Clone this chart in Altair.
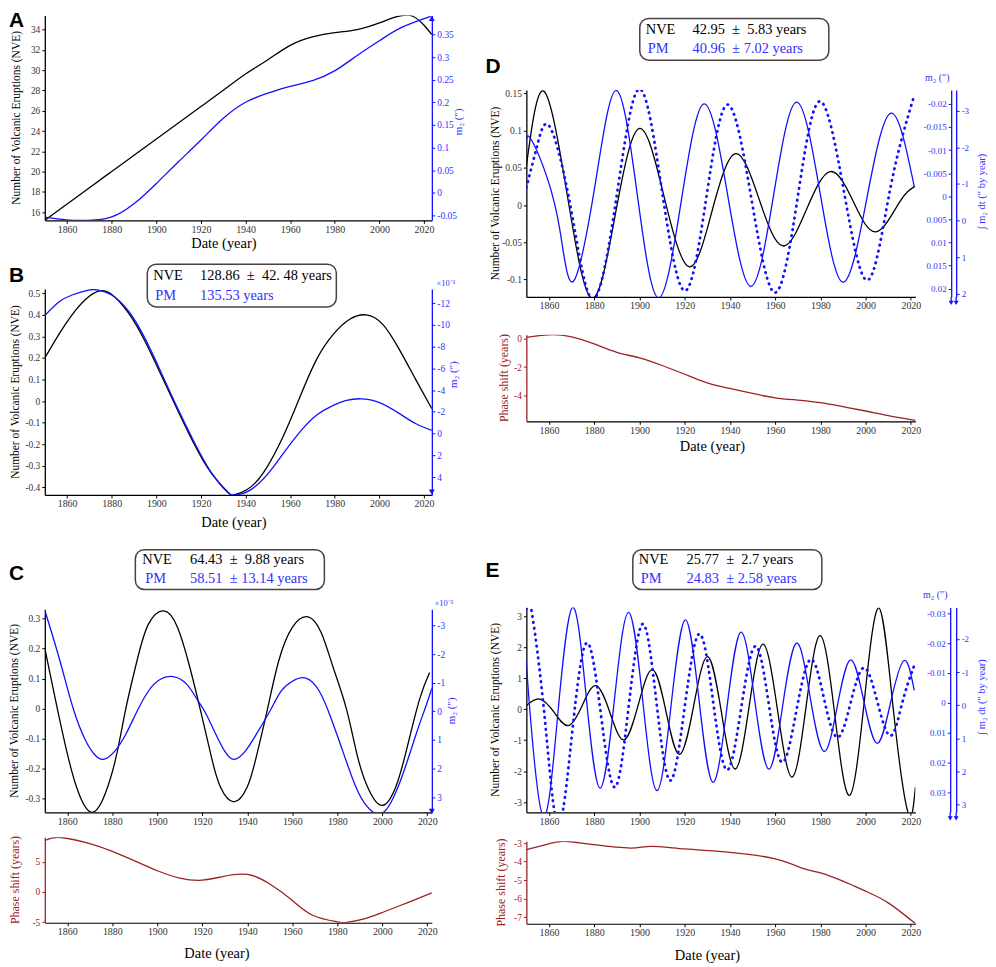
import altair as alt
import pandas as pd

SERIF = "Liberation Serif"
SANS = "Liberation Sans"
BLUE = "#1010ff"
BLUE_TXT = "#3030ff"
RED = "#9b2222"
TICK = "#333333"
BOXC = "#4a4242"

XT = [1860, 1880, 1900, 1920, 1940, 1960, 1980, 2000, 2020]
DOM_AB = [1850, 2023.5]
DOM_CDE = [1850, 2022]

# ---------------- Panel A ----------------
a_year_nve = [1850, 1860, 1870, 1880, 1890, 1900, 1910, 1920, 1930, 1940, 1950, 1960, 1970, 1980, 1990, 2000, 2005, 2010, 2015, 2020, 2023.5]
a_nve = [15.2, 16.81, 18.42, 20.02, 21.62, 23.22, 24.82, 26.42, 28.02, 29.62, 31.03, 32.45, 33.28, 33.7, 34.0, 34.66, 35.09, 35.38, 35.32, 34.43, 33.5]
a_year_pm = [1850, 1859.7, 1869.6, 1879.7, 1889.8, 1899.9, 1909.8, 1919.9, 1929.9, 1940, 1950, 1960, 1970, 1980.1, 1990.2, 2000.3, 2010.2, 2023]
a_pm = [-0.054, -0.060, -0.061, -0.054, -0.025, 0.020, 0.068, 0.116, 0.164, 0.200, 0.220, 0.235, 0.248, 0.270, 0.304, 0.337, 0.366, 0.390]
a_left_ticks = [16, 18, 20, 22, 24, 26, 28, 30, 32, 34]
a_right_ticks = [-0.05, 0, 0.05, 0.1, 0.15, 0.2, 0.25, 0.3, 0.35]

# ---------------- Panel B ----------------
b_year_nve = [1850, 1856.3, 1862.2, 1868.1, 1874.1, 1880, 1887.4, 1894.8, 1902.2, 1909.6, 1917, 1924.4, 1931.9, 1934.8, 1940.7, 1948.1, 1957, 1964.4, 1971.9, 1979.3, 1986.7, 1994.1, 2001.5, 2008.9, 2016.3, 2023.5]
b_nve = [0.20, 0.31, 0.40, 0.47, 0.51, 0.495, 0.41, 0.28, 0.12, -0.043, -0.20, -0.33, -0.42, -0.435, -0.41, -0.33, -0.16, 0.02, 0.195, 0.31, 0.38, 0.40, 0.356, 0.24, 0.10, -0.035]
b_year_pm = [1850, 1856.3, 1862.2, 1869.6, 1874.1, 1880, 1887.4, 1894.8, 1902.2, 1909.6, 1917, 1924.4, 1931.9, 1935.4, 1941.3, 1949.6, 1957, 1964.4, 1971.9, 1979.3, 1985.2, 1991.7, 2000.1, 2009, 2016.4, 2023.5]
b_pm = [-10.86, -12.1, -12.75, -13.2, -13.2, -12.75, -11.3, -8.8, -5.6, -2.3, 0.8, 3.5, 5.4, 5.65, 5.3, 3.8, 1.8, -0.15, -1.7, -2.6, -3.05, -3.2, -2.85, -1.83, -0.9, -0.3]
b_left_ticks = [-0.4, -0.3, -0.2, -0.1, 0, 0.1, 0.2, 0.3, 0.4, 0.5]
b_right_ticks = [-12, -10, -8, -6, -4, -2, 0, 2, 4]

# ---------------- Panel C ----------------
c_year_nve = [1850, 1855, 1860, 1865, 1871, 1877, 1882, 1886, 1891, 1896, 1903, 1909, 1914, 1919, 1924, 1928, 1934, 1940, 1944, 1949, 1954, 1960, 1967, 1973, 1978, 1984, 1989, 1994, 2000, 2006, 2011, 2016.5, 2021]
c_nve = [0.2, 0.02, -0.15, -0.28, -0.345, -0.28, -0.15, 0.0, 0.16, 0.28, 0.325, 0.27, 0.15, 0.0, -0.16, -0.26, -0.31, -0.26, -0.16, 0.0, 0.16, 0.27, 0.305, 0.25, 0.14, 0.0, -0.16, -0.27, -0.322, -0.26, -0.13, 0.03, 0.12]
c_year_pm = [1850, 1854, 1858, 1863, 1868, 1872, 1876, 1881, 1886, 1891, 1896, 1901, 1907, 1913, 1917, 1921, 1926, 1930, 1934, 1939, 1944, 1950, 1955, 1960, 1966, 1972, 1977, 1982, 1987, 1992, 1999, 2005, 2010, 2015, 2019, 2022]
c_pm = [-3.53, -2.5, -1.4, 0.0, 1.0, 1.5, 1.68, 1.4, 0.8, 0.0, -0.7, -1.1, -1.21, -0.95, -0.5, 0.0, 0.8, 1.4, 1.68, 1.4, 0.8, 0.0, -0.7, -1.05, -1.16, -0.7, 0.2, 1.3, 2.4, 3.2, 3.59, 3.0, 2.0, 0.8, -0.1, -0.8]
c_year_ph = [1850, 1857, 1870, 1880, 1892, 1900, 1910, 1920, 1929, 1940, 1950, 1960, 1969, 1980, 1984, 1991.5, 2000, 2011, 2022]
c_ph = [8.5, 9.0, 8.0, 6.7, 4.8, 3.5, 2.3, 1.95, 2.55, 2.9, 1.3, -1.4, -3.85, -4.95, -5.05, -4.5, -3.4, -1.8, -0.15]
c_left_ticks = [-0.3, -0.2, -0.1, 0, 0.1, 0.2, 0.3]
c_right_ticks = [-3, -2, -1, 0, 1, 2, 3]
c_ph_ticks = [-5, 0, 5]

# ---------------- Panel D ----------------
d_year_nve = [1850, 1857.7, 1868, 1878.9, 1889.5, 1900, 1911, 1922, 1932.2, 1942.5, 1953, 1963.4, 1974, 1984.4, 1994.5, 2004.6, 2015, 2021.8]
d_nve = [0.052, 0.153, 0.015, -0.125, -0.01, 0.103, 0.01, -0.083, -0.007, 0.069, 0.007, -0.055, -0.005, 0.045, 0.005, -0.036, 0.004, 0.025]
d_year_pm = [1850, 1852, 1859, 1865, 1870.8, 1880.3, 1889.8, 1899, 1908.4, 1918.5, 1928.6, 1939, 1949.3, 1959.4, 1969.5, 1979.8, 1990, 2000.6, 2011.2, 2021.5]
d_pm = [-0.0120, -0.0124, -0.0043, 0.0078, 0.0184, -0.0022, -0.0229, -0.0005, 0.0220, 0.001, -0.0200, -0.0003, 0.0195, -0.0005, -0.0204, -0.0009, 0.0186, 0.0003, -0.0180, -0.0021]
d_year_int = [1850, 1855, 1860.6, 1870, 1879.6, 1890, 1900, 1910, 1920, 1929.5, 1939, 1949.5, 1960, 1970, 1979.7, 1990.4, 2001, 2011, 2021.4]
d_int = [-0.9, -2.1, -2.54, -0.23, 2.15, -0.7, -3.6, -0.8, 1.92, -0.6, -3.17, -0.6, 1.97, -0.65, -3.26, -0.8, 1.63, -0.9, -3.4]
d_year_ph = [1850, 1860, 1870, 1880, 1890, 1900, 1910, 1920, 1930, 1940, 1950, 1960, 1970, 1980, 1990, 2000, 2010, 2022]
d_ph = [0.07, 0.25, 0.11, -0.39, -0.97, -1.36, -1.89, -2.5, -3.1, -3.49, -3.84, -4.14, -4.3, -4.48, -4.76, -5.06, -5.38, -5.72]
d_left_ticks = [-0.1, -0.05, 0, 0.05, 0.1, 0.15]
d_m2_ticks = [-0.02, -0.015, -0.01, -0.005, 0, 0.005, 0.01, 0.015, 0.02]
d_int_ticks = [-3, -2, -1, 0, 1, 2]
d_ph_ticks = [-4, -2, 0]

# ---------------- Panel E ----------------
e_year_nve = [1850, 1856.0, 1862.3, 1868.6, 1874.7, 1880.8, 1887.0, 1893.2, 1899.5, 1905.8, 1911.8, 1917.8, 1924.0, 1930.2, 1936.3, 1942.4, 1948.5, 1954.7, 1961.1, 1967.5, 1973.7, 1980.0, 1986.4, 1992.9, 1999.4, 2005.9, 2012.3, 2018.8, 2022]
e_nve = [0.12, 0.33, -0.10, -0.53, 0.12, 0.76, -0.12, -0.99, 0.15, 1.28, -0.09, -1.46, 0.12, 1.70, -0.12, -1.93, 0.09, 2.10, -0.05, -2.19, 0.10, 2.38, -0.20, -2.78, 0.25, 3.27, -0.04, -3.35, -2.52]
e_year_pm = [1850, 1851.5, 1857.5, 1864.0, 1870.5, 1876.5, 1882.6, 1888.9, 1895.2, 1901.5, 1907.7, 1914.0, 1920.3, 1926.4, 1932.5, 1938.7, 1944.9, 1951.0, 1957.2, 1963.3, 1969.5, 1975.5, 1981.6, 1987.5, 1993.4, 1999.3, 2005.2, 2011.1, 2017.0, 2021.5]
e_pm = [-0.0142, 0.002, 0.038, 0.003, -0.032, -0.0017, 0.0286, -0.0008, -0.0303, -0.0005, 0.0294, 0.0008, -0.0278, -0.0006, 0.0266, 0.0015, -0.0237, -0.0007, 0.0222, 0.0011, -0.020, -0.0018, 0.0163, 0.001, -0.0144, -0.0003, 0.0136, -0.0003, -0.0142, -0.0042]
e_year_int = [1850, 1852, 1858, 1864, 1870.3, 1876.7, 1883.0, 1889.2, 1895.3, 1901.5, 1907.5, 1913.6, 1920.0, 1926.5, 1932.6, 1938.7, 1945.0, 1951.3, 1957.2, 1963.1, 1969.4, 1975.7, 1981.6, 1987.5, 1993.4, 1999.3, 2005.2, 2011.1, 2016.3, 2021.4]
e_int = [-2.9, -2.95, 0.3, 3.6, 0.8, -1.88, 0.3, 2.47, 0.0, -2.45, -0.1, 2.27, 0.06, -2.15, -0.1, 1.95, 0.08, -1.78, -0.03, 1.72, 0.17, -1.38, -0.2, 0.97, -0.08, -1.13, -0.1, 0.92, -0.1, -1.18]
e_year_ph = [1850, 1860, 1867, 1880, 1896, 1905, 1920, 1940, 1960, 1973, 1980, 1990, 2000, 2010, 2022]
e_ph = [-3.36, -3.04, -2.91, -3.09, -3.27, -3.18, -3.32, -3.5, -3.86, -4.4, -4.61, -5.06, -5.6, -6.23, -7.35]
e_left_ticks = [-3, -2, -1, 0, 1, 2, 3]
e_m2_ticks = [-0.03, -0.02, -0.01, 0, 0.01, 0.02, 0.03]
e_int_ticks = [-2, -1, 0, 1, 2, 3]
e_ph_ticks = [-7, -6, -5, -4, -3]

NVE_T = "Number of Volcanic Eruptions (NVE)"
PH_T = "Phase shift (years)"
M2_T = "m\u2082 (\u2033)"
INT_T = "\u222b m\u2082 dt (\u2033 by year)"
NB = "\u00a0"

ONE = pd.DataFrame({"k": [0]})
LW = 1.3


def xenc(dom, fs=10):
    return alt.X("year:Q", scale=alt.Scale(domain=dom, nice=False, zero=False),
                 axis=alt.Axis(values=XT, labelExpr="'' + datum.value", title=None,
                               labelFontSize=fs, labelColor=TICK, domainColor="black",
                               tickColor="black", tickSize=3, labelPadding=1,
                               domainWidth=1.2, labelFont=SERIF))


def yaxis(vals, orient, color, lcolor, fs=9.5, offset=None):
    kw = dict(values=vals, labelExpr="'' + datum.value", title=None, orient=orient,
              domainColor=color, tickColor=color, labelColor=lcolor, labelFontSize=fs,
              tickSize=3, labelPadding=2, domainWidth=1.3, labelFont=SERIF)
    if offset is not None:
        kw["offset"] = offset
    return alt.Axis(**kw)


def curve(years, vals, xdom, ydom, axis, color, reverse=False, dotted=False):
    mk = dict(color=color, strokeWidth=LW, interpolate="natural", clip=True)
    if dotted:
        mk.update(strokeWidth=2.8, strokeDash=[0.5, 5.5], strokeCap="round")
    sc = alt.Scale(domain=ydom, nice=False, zero=False, reverse=reverse)
    df = pd.DataFrame({"year": years, "v": vals})
    return alt.Chart(df).mark_line(**mk).encode(
        x=xenc(xdom), y=alt.Y("v:Q", scale=sc, axis=axis))


def txt(x, y, s, size=14.5, color="black", font=SERIF, align="left",
        baseline="middle", angle=None, weight="normal"):
    mk = dict(font=font, fontSize=size, color=color, align=align,
              baseline=baseline, fontWeight=weight)
    if angle is not None:
        mk["angle"] = angle
    return alt.Chart(ONE).mark_text(**mk).encode(
        x=alt.value(x), y=alt.value(y), text=alt.value(s))


def letter(x, y, s):
    return txt(x, y, s, size=21, font=SANS, weight="bold", baseline="top")


def box(x0, x1, y0, y1):
    return alt.Chart(ONE).mark_rect(fill="white", stroke=BOXC, strokeWidth=1.5,
                                    cornerRadius=9).encode(
        x=alt.value(x0), x2=alt.value(x1), y=alt.value(y0), y2=alt.value(y1))


def arrow(x, y, up, size=36):
    return alt.Chart(ONE).mark_point(shape="triangle-up" if up else "triangle-down",
                                     filled=True, color=BLUE, size=size,
                                     opacity=1).encode(x=alt.value(x), y=alt.value(y))


def vrule(x, y0, y1):
    return alt.Chart(ONE).mark_rule(color=BLUE, strokeWidth=1.3).encode(
        x=alt.value(x), y=alt.value(y0), y2=alt.value(y1))


def spacer(w, h):
    return alt.Chart(ONE).mark_point(opacity=0).encode(
        x=alt.value(0), y=alt.value(0)).properties(width=w, height=h)


def legend_box(x0, x1, y0, y1, xn, xp, xv, nve_s, pm_s):
    ym1 = y0 + (y1 - y0) * 0.27
    ym2 = y0 + (y1 - y0) * 0.74
    return [box(x0, x1, y0, y1),
            txt(xn, ym1, "NVE"), txt(xv, ym1, nve_s),
            txt(xp, ym2, "PM", color=BLUE_TXT), txt(xv, ym2, pm_s, color=BLUE_TXT)]


WL, WR = 389, 391

# ---- A ----
HA = 206
A = alt.layer(
    curve(a_year_nve, a_nve, DOM_AB, [15.2, 35.4], yaxis(a_left_ticks, "left", "black", TICK), "black"),
    curve(a_year_pm, a_pm, DOM_AB, [-0.061, 0.392], yaxis(a_right_ticks, "right", BLUE, BLUE_TXT), BLUE),
    arrow(WL, 3, True),
    letter(-36, -5, "A"),
    txt(-28, HA / 2, NVE_T, size=11.5, align="center", angle=270),
    txt(WL + 27, HA / 2 + 4, M2_T, size=11, color=BLUE_TXT, align="center", angle=270),
    txt(180, HA + 24, "Date (year)", align="center"),
).resolve_scale(y="independent").properties(width=WL, height=HA)

# ---- B ----
HB = 207
B = alt.layer(
    curve(b_year_nve, b_nve, DOM_AB, [-0.435, 0.52], yaxis(b_left_ticks, "left", "black", TICK), "black"),
    curve(b_year_pm, b_pm, DOM_AB, [-13.3, 5.65], yaxis(b_right_ticks, "right", BLUE, BLUE_TXT), BLUE, reverse=True),
    arrow(WL, HB - 3, False),
    *legend_box(103, 293, -25, 18, 109, 111, 156,
                "128.86" + NB + NB + "\u00b1" + NB + NB + "42. 48 years", "135.53 years"),
    letter(-36, -24, "B"),
    txt(-29, HB / 2, NVE_T, size=11.5, align="center", angle=270),
    txt(WL + 22, 86, M2_T, size=11, color=BLUE_TXT, align="center", angle=270),
    txt(WL + 14, -6, "\u00d710\u207b\u00b3", size=8.5, color=BLUE_TXT, align="center"),
    txt(190, HB + 28, "Date (year)", align="center"),
).resolve_scale(y="independent").properties(width=WL, height=HB)

# ---- C ----
HC = 204
C = alt.layer(
    curve(c_year_nve, c_nve, DOM_CDE, [-0.345, 0.33], yaxis(c_left_ticks, "left", "black", TICK), "black"),
    curve(c_year_pm, c_pm, DOM_CDE, [-3.56, 3.53], yaxis(c_right_ticks, "right", BLUE, BLUE_TXT), BLUE, reverse=True),
    arrow(WL, HC - 1, False),
    *legend_box(91, 281, -60, -20, 98, 101, 146,
                "64.43" + NB + NB + "\u00b1" + NB + NB + "9.88 years",
                "58.51" + NB + NB + "\u00b1 13.14 years"),
    letter(-36, -47, "C"),
    txt(-30, HC / 2, NVE_T, size=11.5, align="center", angle=270),
    txt(WL + 20, HC / 2, M2_T, size=11, color=BLUE_TXT, align="center", angle=270),
    txt(WL + 12, -6, "\u00d710\u207b\u00b3", size=8.5, color=BLUE_TXT, align="center"),
).resolve_scale(y="independent").properties(width=WL, height=HC)

HCP = 86
CP = alt.layer(
    curve(c_year_ph, c_ph, DOM_CDE, [-5.1, 9.05], yaxis(c_ph_ticks, "left", RED, RED), RED),
    txt(-30, HCP / 2, PH_T, size=12, color=RED, align="center", angle=270),
    txt(173, HCP + 31, "Date (year)", align="center"),
).properties(width=WL, height=HCP)

# ---- D ----
HD = 208
D = alt.layer(
    curve(d_year_nve, d_nve, DOM_CDE, [-0.1235, 0.1545], yaxis(d_left_ticks, "left", "black", TICK), "black"),
    curve(d_year_pm, d_pm, DOM_CDE, [-0.023, 0.0218],
          yaxis(d_m2_ticks, "left", BLUE, BLUE_TXT, 9, offset=-427), BLUE, reverse=True),
    curve(d_year_int, d_int, DOM_CDE, [-3.57, 2.09],
          yaxis(d_int_ticks, "right", BLUE, BLUE_TXT, 9, offset=41), BLUE, reverse=True, dotted=True),
    vrule(427, HD, HD + 5), vrule(432, HD, HD + 5),
    arrow(427, HD + 6, False, 25), arrow(432, HD + 6, False, 25),
    *legend_box(114, 304, -72, -30, 120, 122, 167,
                "42.95" + NB + NB + "\u00b1" + NB + NB + "5.83 years",
                "40.96" + NB + NB + "\u00b1 7.02 years"),
    letter(-41, -34, "D"),
    txt(-30, HD / 2, NVE_T, size=11.5, align="center", angle=270),
    txt(413, -12, M2_T, size=10, color=BLUE_TXT, align="center"),
    txt(458, 102, INT_T, size=10.5, color=BLUE_TXT, align="center", angle=270),
).resolve_scale(y="independent").properties(width=WR, height=HD)

HDP = 87
DP = alt.layer(
    curve(d_year_ph, d_ph, DOM_CDE, [-5.78, 0.25], yaxis(d_ph_ticks, "left", RED, RED), RED),
    txt(-22, HDP / 2, PH_T, size=12, color=RED, align="center", angle=270),
    txt(187, HDP + 26, "Date (year)", align="center"),
).properties(width=WR, height=HDP)

# ---- E ----
HE = 206
E = alt.layer(
    curve(e_year_nve, e_nve, DOM_CDE, [-3.33, 3.29], yaxis(e_left_ticks, "left", "black", TICK), "black"),
    curve(e_year_pm, e_pm, DOM_CDE, [-0.032, 0.0367],
          yaxis(e_m2_ticks, "left", BLUE, BLUE_TXT, 9, offset=-426), BLUE, reverse=True),
    curve(e_year_int, e_int, DOM_CDE, [-2.95, 3.23],
          yaxis(e_int_ticks, "right", BLUE, BLUE_TXT, 9, offset=41), BLUE, reverse=True, dotted=True),
    vrule(426, HE, HE + 5), vrule(432, HE, HE + 5),
    arrow(426, HE + 6, False, 25), arrow(432, HE + 6, False, 25),
    *legend_box(107, 297, -58, -18, 113, 115, 161,
                "25.77" + NB + NB + "\u00b1" + NB + NB + "2.7 years",
                "24.83" + NB + NB + "\u00b1 2.58 years"),
    letter(-41, -48, "E"),
    txt(-30, HE / 2, NVE_T, size=11.5, align="center", angle=270),
    txt(411, -12, M2_T, size=10, color=BLUE_TXT, align="center"),
    txt(458, 90, INT_T, size=10.5, color=BLUE_TXT, align="center", angle=270),
).resolve_scale(y="independent").properties(width=WR, height=HE)

HEP = 83
EP = alt.layer(
    curve(e_year_ph, e_ph, DOM_CDE, [-7.36, -2.9], yaxis(e_ph_ticks, "left", RED, RED), RED),
    txt(-25, HEP / 2, PH_T, size=12, color=RED, align="center", angle=270),
    txt(182, HEP + 32, "Date (year)", align="center"),
).properties(width=WR, height=HEP)

left = alt.vconcat(A, spacer(WL, 69), B, spacer(WL, 115), C, spacer(WL, 25), CP,
                   spacing=0, bounds="flush")
right = alt.vconcat(spacer(WR, 75), D, spacer(WR, 38), DP, spacer(WR, 187), E,
                    spacer(WR, 29), EP, spacing=0, bounds="flush")

chart = alt.hconcat(left, right, spacing=484, bounds="flush").properties(
    padding=0
).configure_view(stroke=None).configure_axis(grid=False, labelFont=SERIF)

chart.save("out.html", embed_options={"renderer": "svg", "actions": False})
